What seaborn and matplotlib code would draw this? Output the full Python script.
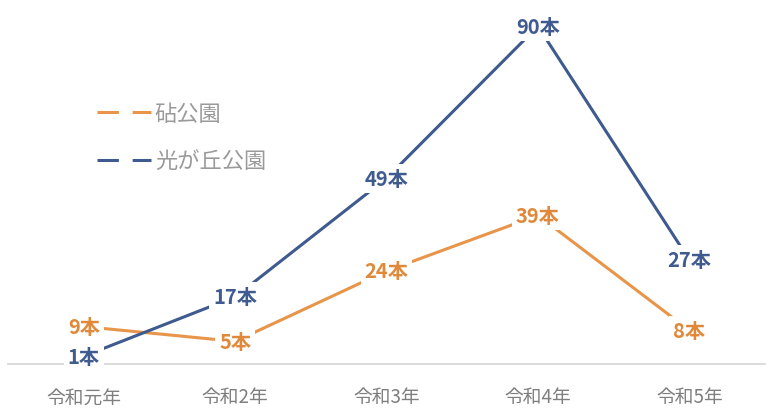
import matplotlib
matplotlib.use("Agg")
import matplotlib.pyplot as plt
import seaborn as sns
import pandas as pd
from matplotlib.lines import Line2D

categories = ["令和元年", "令和2年", "令和3年", "令和4年", "令和5年"]
series_names = ["砧公園", "光が丘公園"]
kinuta = [9, 5, 24, 39, 8]
hikarigaoka = [1, 17, 49, 90, 27]
colors = {"砧公園": "#E8954A", "光が丘公園": "#3E5A8E"}
label_colors = {"砧公園": "#E0893A", "光が丘公園": "#3F5B8F"}

sns.set_theme(style="white")
plt.rcParams["font.family"] = ["Noto Sans CJK JP", "DejaVu Sans"]

df = pd.DataFrame({
    "year": categories * 2,
    "x": list(range(len(categories))) * 2,
    "value": kinuta + hikarigaoka,
    "park": [series_names[0]] * len(categories) + [series_names[1]] * len(categories),
})

fig = plt.figure(figsize=(7.71, 4.14), dpi=100)
ax = fig.add_axes([8 / 771, 1 - 365 / 414, 757 / 771, 360 / 414])

sns.lineplot(data=df, x="x", y="value", hue="park", palette=colors,
             linewidth=2.2, ax=ax, legend=False, zorder=2)

for name in series_names:
    sub = df[df["park"] == name]
    for xv, yv in zip(sub["x"], sub["value"]):
        ax.text(xv, yv, f"{yv}本", ha="center", va="center", fontsize=14.5,
                color=label_colors[name], fontweight="bold", zorder=4,
                bbox=dict(boxstyle="square,pad=0.2", fc="white", ec="none"))

ax.set_xlim(-0.5, 4.5)
ax.set_ylim(-1.1, 96)
ax.set_xticks(range(len(categories)))
ax.set_xticklabels(categories, fontsize=13.5, color="#7F7F7F")
ax.tick_params(axis="x", length=0, pad=16)
ax.set_yticks([])
ax.set_xlabel("")
ax.set_ylabel("")
for s in ["top", "right", "left"]:
    ax.spines[s].set_visible(False)
ax.spines["bottom"].set_color("#D9D9D9")
ax.spines["bottom"].set_linewidth(1.3)
ax.spines["bottom"].set_zorder(1)

handles = [Line2D([0], [0], color=colors[n], lw=2.2, linestyle=(0, (7, 4.5))) for n in series_names]
leg = ax.legend(handles, series_names, loc="upper left", bbox_to_anchor=(89 / 757, 1 - 98 / 360),
                frameon=False, fontsize=16, handlelength=2.45, labelspacing=1.1,
                handletextpad=0.15, borderaxespad=0, borderpad=0)
for t in leg.get_texts():
    t.set_color("#9A9A9A")

fig.savefig("out.png", dpi=100, facecolor="white")
